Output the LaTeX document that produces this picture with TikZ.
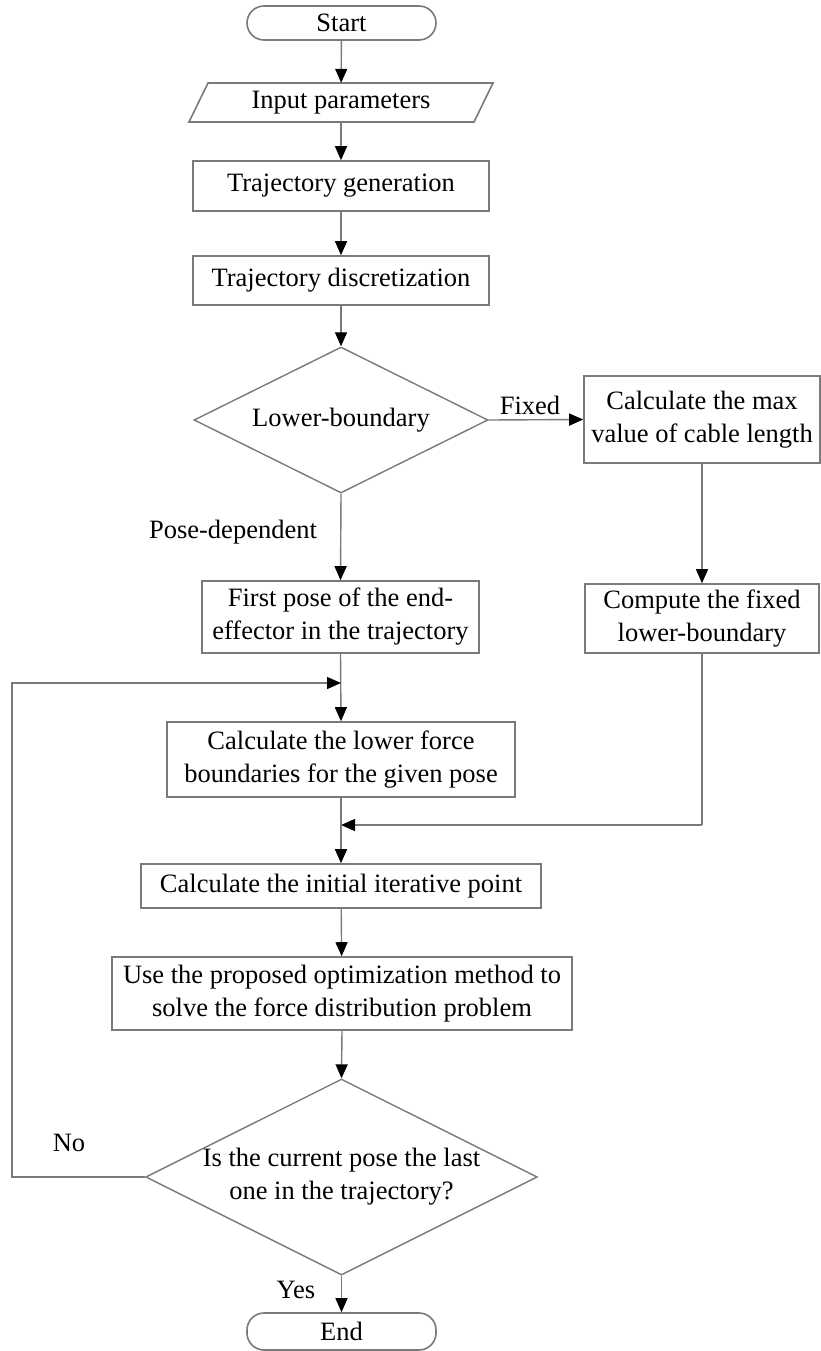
\documentclass[tikz,border=0pt]{standalone}
\usepackage{fontspec}
\setmainfont{Liberation Serif}
\usetikzlibrary{arrows.meta,shapes.geometric}
\definecolor{linegray}{HTML}{7A7A7A}
\tikzset{
  base/.style={font=\fontsize{26.5}{33}\selectfont, text=black, inner sep=0pt, align=center},
  procbox/.style={base, draw=linegray, line width=1.6pt, rectangle},
  term/.style={base, draw=linegray, line width=1.6pt, rectangle, rounded corners=17pt, minimum width=189pt},
  decision/.style={base, draw=linegray, line width=1.4pt, diamond, aspect=2},
  lbl/.style={base},
  conn/.style={draw=linegray, line width=1.4pt},
  arr/.style={conn, -{Triangle[length=14pt,width=12pt,color=black,fill=black]}}
}
\begin{document}
\begin{tikzpicture}[x=1pt,y=-1pt]
\useasboundingbox (0,0) rectangle (821,1351);
\fill[white] (0,0) rectangle (821,1351);

\node[term, minimum height=34pt] (start) at (341.5,23) {Start};
\node[base, minimum height=39pt, minimum width=290pt] (input) at (341,102.5) {Input parameters};
\draw[draw=linegray, line width=1.6pt] (189,122) -- (208,83) -- (493,83) -- (474,122) -- cycle;
\node[procbox, minimum width=296pt, minimum height=50pt] (tgen) at (341,186) {Trajectory generation};
\node[procbox, minimum width=296pt, minimum height=49pt] (tdisc) at (341,280.5) {Trajectory discretization};
\node[decision, minimum width=294pt, minimum height=146pt] (d1) at (341,420) {Lower-boundary};
\node[procbox, minimum width=236pt, minimum height=87pt] (fixed) at (702,419.5) {Calculate the max\\value of cable length};
\node[procbox, minimum width=277pt, minimum height=72pt] (fpose) at (340.5,617) {First pose of the end-\\effector in the trajectory};
\node[procbox, minimum width=234pt, minimum height=69pt] (compute) at (702,618.5) {Compute the fixed\\lower-boundary};
\node[procbox, minimum width=348pt, minimum height=75pt] (lforce) at (341,759.5) {Calculate the lower force\\boundaries for the given pose};
\node[procbox, minimum width=400pt, minimum height=44pt] (initial) at (341,886) {Calculate the initial iterative point};
\node[procbox, minimum width=460pt, minimum height=73pt] (use) at (342,993.5) {Use the proposed optimization method to\\solve the force distribution problem};
\node[decision, minimum width=390pt, minimum height=196pt] (d2) at (341.5,1177) {Is the current pose the last\\one in the trajectory?};
\node[term, minimum height=37pt] (end) at (341.5,1331.5) {End};

\node[lbl] (lfixed) at (530,405) {Fixed};
\node[lbl] (lpose) at (233,532) {Pose-dependent};
\node[lbl] (lno) at (69,1143) {No};
\node[lbl] (lyes) at (296,1290) {Yes};

\coordinate (m0) at (341,683);
\coordinate (m1) at (341,825);
\coordinate (c1) at (12,1177);
\coordinate (c2) at (12,683);
\coordinate (c3) at (702,825);

\draw[arr] (start) -- (input);
\draw[arr] (input) -- (tgen);
\draw[arr] (tgen) -- (tdisc);
\draw[arr] (tdisc) -- (d1);
\draw[arr] (d1.east) -- (fixed.west);
\draw[arr] (d1.south) -- (fpose.north);
\draw[arr] (fixed) -- (compute);
\draw[arr] (fpose.south) -- (lforce.north);
\draw[arr] (c1 -| d2.west) -- (c1) -- (c2) -- (m0);
\draw[conn] (compute.south) -- (c3);
\draw[arr] (c3) -- (m1);
\draw[arr] (lforce.south) -- (initial.north);
\draw[arr] (initial) -- (use);
\draw[arr] (use.south) -- (d2.north);
\draw[arr] (d2.south) -- (end.north);
\end{tikzpicture}
\end{document}
